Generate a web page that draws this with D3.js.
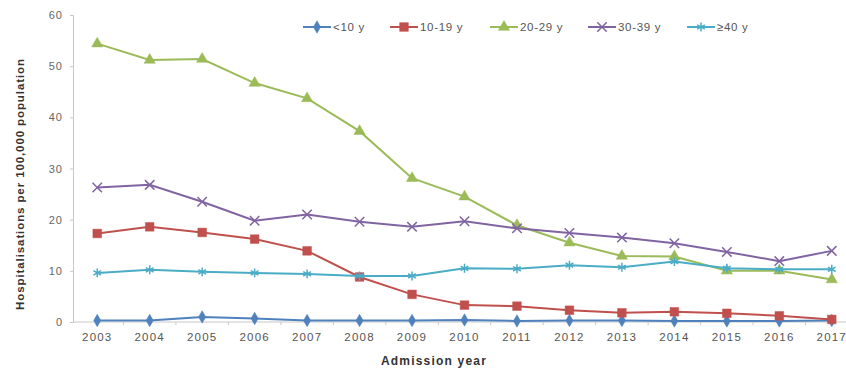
<!DOCTYPE html>
<html><head><meta charset="utf-8">
<script src="https://cdn.jsdelivr.net/npm/d3@7/dist/d3.min.js"></script>
<style>body{margin:0;background:#fff}svg{display:block;font-family:"Liberation Sans",Arial,sans-serif}</style>
</head><body>
<svg id="c" width="846" height="368"></svg>
<script>
const years = ["2003","2004","2005","2006","2007","2008","2009","2010","2011","2012","2013","2014","2015","2016","2017"];
const seriesNames = ["<10 y","10-19 y","20-29 y","30-39 y","\u226540 y"];
const under10 = [0.3,0.3,1.0,0.7,0.3,0.3,0.3,0.4,0.2,0.3,0.3,0.2,0.2,0.2,0.3];
const age10to19 = [17.3,18.6,17.5,16.2,13.9,8.8,5.4,3.3,3.1,2.3,1.8,2.0,1.7,1.2,0.5];
const age20to29 = [54.4,51.2,51.4,46.7,43.7,37.3,28.1,24.5,18.9,15.5,12.9,12.8,10.0,10.0,8.3];
const age30to39 = [26.3,26.8,23.5,19.8,21.0,19.6,18.6,19.7,18.3,17.4,16.5,15.4,13.7,11.9,13.9];
const age40plus = [9.6,10.2,9.8,9.6,9.4,9.0,9.0,10.5,10.4,11.1,10.7,11.8,10.5,10.3,10.3];
const yTicks = [0,10,20,30,40,50,60];

const colors = ["#4f81bd","#c0504d","#9bbb59","#8064a2","#4bacc6"];
const symbols = ["diamond","square","triangle","x","star"];
const data = [under10, age10to19, age20to29, age30to39, age40plus];

const svg = d3.select("#c");
const pLeft = 73, pRight = 858, pTop = 15, pBottom = 322;
const x = d3.scalePoint().domain(years).range([pLeft - 2, pRight]).padding(0.5);
const y = d3.scaleLinear().domain([0,60]).range([pBottom, pTop]);

// y axis
const ya = svg.append("g").attr("transform",`translate(${pLeft},0)`)
  .call(d3.axisLeft(y).tickValues(yTicks).tickSize(3).tickPadding(7));
ya.select(".domain").attr("stroke","#c8c8c8");
ya.selectAll(".tick line").attr("stroke","#c8c8c8");
ya.selectAll("text").attr("fill","#666").style("font-size","11px").style("letter-spacing","1px");

// x axis
const band = x.step();
const xa = svg.append("g").attr("transform",`translate(0,${pBottom})`);
xa.append("line").attr("x1",pLeft).attr("x2",846).attr("stroke","#c8c8c8");
xa.selectAll(".tk").data(years).enter().append("line")
  .attr("x1",d=>x(d)+band/2).attr("x2",d=>x(d)+band/2).attr("y1",0).attr("y2",3).attr("stroke","#c8c8c8");
xa.selectAll(".lb").data(years).enter().append("text")
  .attr("x",d=>x(d)).attr("y",19).attr("text-anchor","middle")
  .attr("fill","#555").style("font-size","11.5px").style("letter-spacing","1.2px").text(d=>d);

// titles
svg.append("text").attr("x",434).attr("y",365).attr("text-anchor","middle")
  .style("font-size","12px").style("font-weight","bold").style("letter-spacing","1.2px")
  .attr("fill","#333").text("Admission year");
svg.append("text").attr("transform","translate(24,184) rotate(-90)").attr("text-anchor","middle")
  .style("font-size","11.5px").style("font-weight","bold").style("letter-spacing","0.9px")
  .attr("fill","#333").text("Hospitalisations per 100,000 population");

const symType = {diamond:d3.symbolDiamond, square:d3.symbolSquare, triangle:d3.symbolTriangle, x:d3.symbolX, star:d3.symbolAsterisk};
const symSize = {diamond:45, square:75, triangle:55, x:60, star:55};

function drawMarker(g, kind, color){
  const stroked = (kind==="x"||kind==="star");
  g.append("path").attr("d", d3.symbol().type(symType[kind]).size(symSize[kind])())
   .attr("fill", stroked ? "none" : color).attr("stroke", color).attr("stroke-width", stroked?1.5:0.5);
}

const line = d3.line().x((d,i)=>x(years[i])).y(d=>y(d));
data.forEach((vals,si)=>{
  const g = svg.append("g");
  g.append("path").datum(vals).attr("d",line).attr("fill","none").attr("stroke",colors[si]).attr("stroke-width",2);
  vals.forEach((v,i)=>{
    const m = g.append("g").attr("transform",`translate(${x(years[i])},${y(v)})`);
    drawMarker(m, symbols[si], colors[si]);
  });
});

// legend
const legX = [303, 390, 490, 588, 687];
seriesNames.forEach((n,i)=>{
  const g = svg.append("g").attr("transform",`translate(${legX[i]},27)`);
  g.append("line").attr("x1",0).attr("x2",28).attr("stroke",colors[i]).attr("stroke-width",2);
  const m = g.append("g").attr("transform","translate(14,0)");
  drawMarker(m, symbols[i], colors[i]);
  g.append("text").attr("x",30).attr("y",4).style("font-size","11.5px").style("letter-spacing","0.7px")
   .attr("fill","#555").text(n);
});
</script>
</body></html>
